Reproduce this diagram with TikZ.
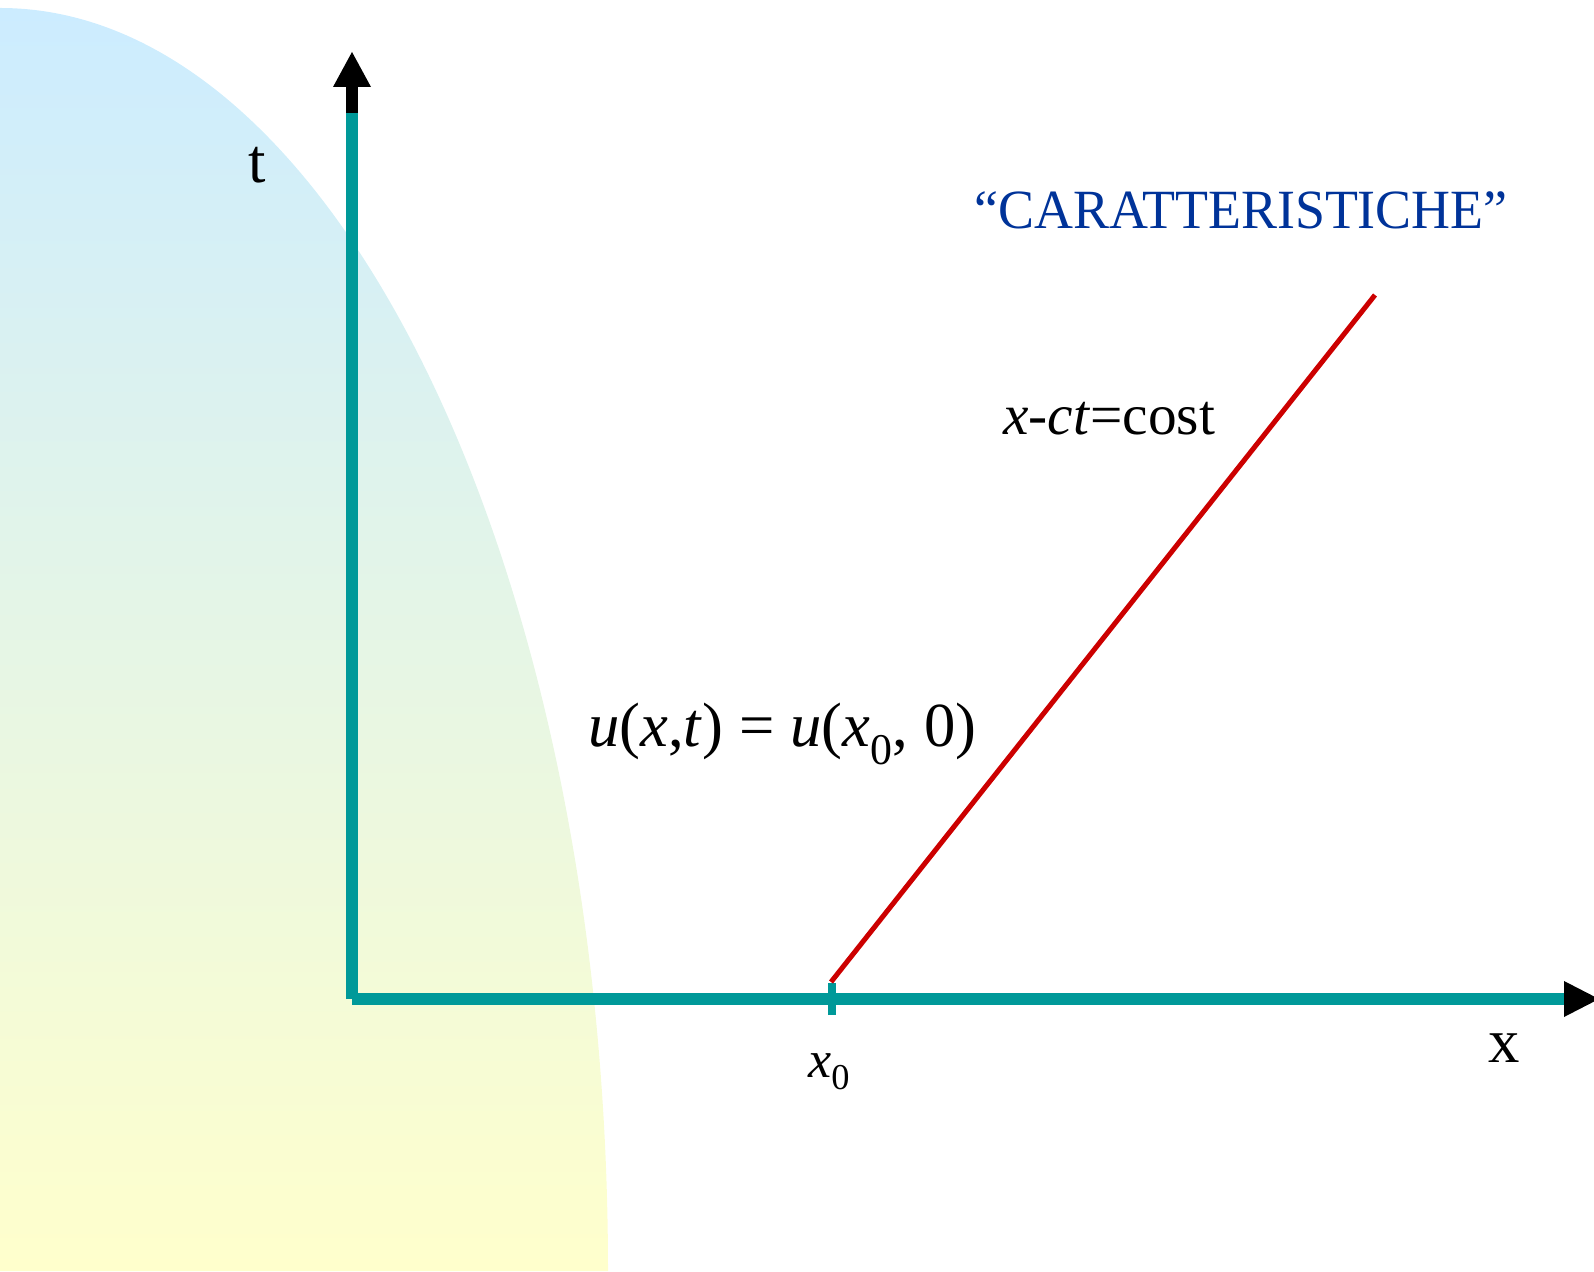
\documentclass[tikz,border=0pt]{standalone}
\usepackage{fontspec}
\setmainfont{Liberation Serif}
\definecolor{axteal}{HTML}{009999}
\definecolor{charred}{HTML}{CC0000}
\definecolor{labblue}{HTML}{003399}
\definecolor{topblue}{HTML}{CCECFF}
\definecolor{botyellow}{HTML}{FFFFCC}
\tikzset{
  axisline/.style={draw=axteal, line width=9pt},
  bigtext/.style={inner sep=0pt, font=\fontsize{47}{56}\selectfont},
  midtext/.style={inner sep=0pt, font=\fontsize{43}{52}\selectfont},
  cartext/.style={inner sep=0pt, font=\fontsize{41.5}{50}\selectfont},
  smalltext/.style={inner sep=0pt, font=\fontsize{39}{46}\selectfont},
}
\begin{document}
\begin{tikzpicture}[x=0.75pt,y=0.75pt]
\useasboundingbox (0,0) rectangle (1594,1271);
\clip (0,0) rectangle (1594,1271);
% gradient region
\shade[top color=topblue, bottom color=botyellow]
  (0,0) -- (0,1263) arc[start angle=90, end angle=0, x radius=456pt, y radius=947.25pt] -- cycle;
% coordinates
\coordinate (O) at (352,272);
\coordinate (Ttop) at (352,1158);
\coordinate (Tblack) at (352,1184);
\coordinate (Xend) at (1564,272);
\coordinate (Rs) at (831,289);
\coordinate (Re) at (1375,976);
% axes
\draw[axisline] (352,272) -- (Ttop);
\draw[axisline] (O) -- (Xend);
\draw[black, line width=9pt] (Ttop) -- (Tblack);
\fill[black] (333,1184) -- (371,1184) -- (352,1219) -- cycle;
\fill[black] (1564,290) -- (1564,254) -- (1599,272) -- cycle;
% tick
\draw[draw=axteal, line width=6pt] (832,256) -- (832,288);
% characteristic
\draw[charred, line width=3.75pt] (Rs) -- (Re);
% labels
\node[bigtext, anchor=base] (tlab) at (257,1088) {t};
\node[bigtext, anchor=base] (xlab) at (1504,209) {x};
\node[cartext, anchor=base west, text=labblue] (car) at (974,1042) {\scalebox{0.975}[1]{“CARATTERISTICHE”}};
\node[midtext, anchor=base west] (cost) at (1003,836) {\textit{x-ct}=cost};
\node[bigtext, anchor=base west] (form) at (588,524) {\textit{u}(\textit{x},\textit{t}) = \textit{u}(\textit{x}\textsubscript{0}, 0)};
\node[smalltext, anchor=base west] (x0lab) at (808,194) {\textit{x}\textsubscript{0}};
\end{tikzpicture}
\end{document}
